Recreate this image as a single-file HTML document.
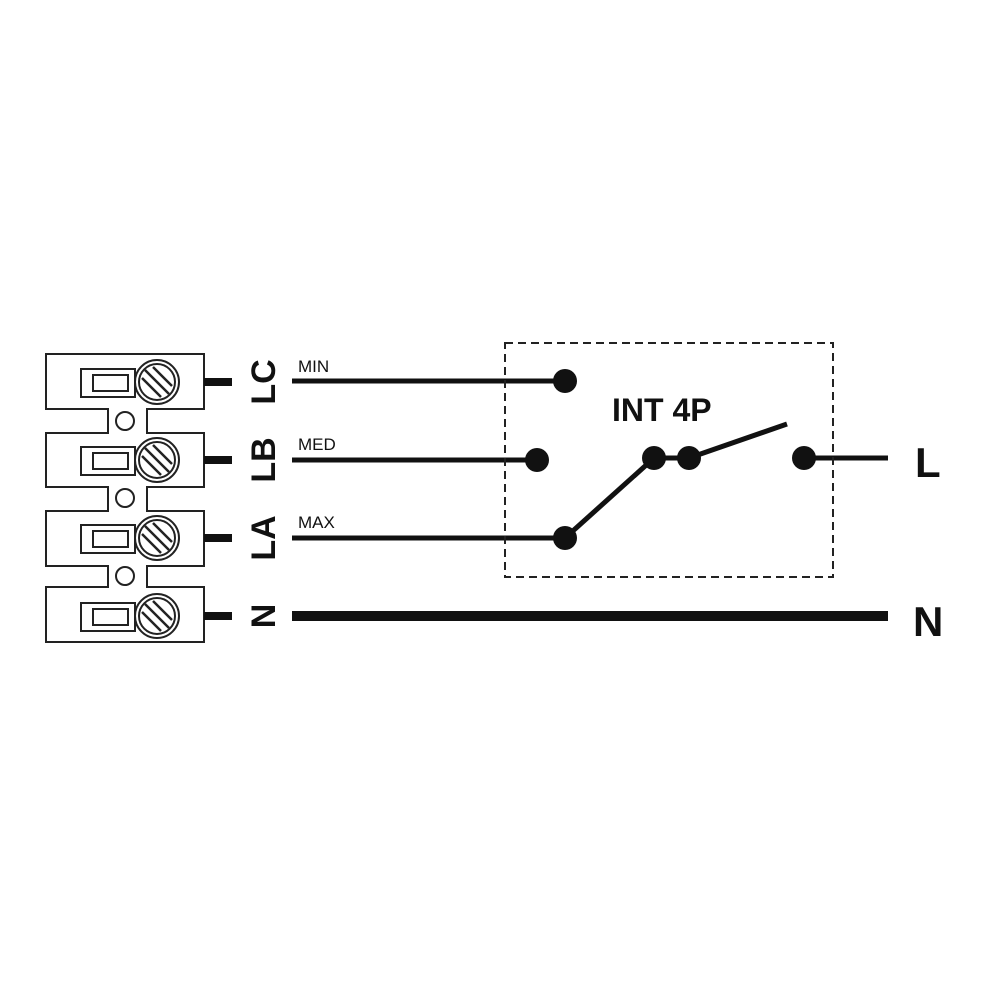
<!DOCTYPE html>
<html><head><style>body{margin:0;background:#fff}svg{display:block}</style></head><body>
<svg width="1000" height="1000" viewBox="0 0 1000 1000" xmlns="http://www.w3.org/2000/svg" font-family="Liberation Sans, sans-serif">
<rect width="1000" height="1000" fill="#fff"/>
<g fill="none" stroke="#222" stroke-width="2">
<path d="M46,354 H204 V409 H147 V433 H204 V487 H147 V511 H204 V566 H147 V587 H204 V642 H46 V587 H108 V566 H46 V511 H108 V487 H46 V433 H108 V409 H46 Z"/>
<circle cx="125" cy="421" r="9"/><circle cx="125" cy="498" r="9"/><circle cx="125" cy="576" r="9"/>
</g>
<g id="t">
<rect x="81" y="369" width="54" height="28" fill="none" stroke="#222" stroke-width="2"/>
<rect x="93" y="375" width="35" height="16" fill="none" stroke="#222" stroke-width="2"/>
<circle cx="157" cy="382" r="22" fill="#fff" stroke="#222" stroke-width="2"/>
<circle cx="157" cy="382" r="18" fill="none" stroke="#222" stroke-width="2"/>
<line x1="145" y1="370" x2="169" y2="394" stroke="#222" stroke-width="2.5"/>
<line x1="142" y1="378" x2="161" y2="397" stroke="#222" stroke-width="2.5"/>
<line x1="153" y1="367" x2="172" y2="386" stroke="#222" stroke-width="2.5"/>
<rect x="204" y="378" width="28" height="8" fill="#111"/>
</g>
<use href="#t" y="78"/><use href="#t" y="156"/><use href="#t" y="234"/>
<g font-weight="bold" font-size="34" fill="#111" text-anchor="middle">
<text transform="translate(275,382) rotate(-90)">LC</text>
<text transform="translate(275,460) rotate(-90)">LB</text>
<text transform="translate(275,538) rotate(-90)">LA</text>
<text transform="translate(275,616) rotate(-90)">N</text>
</g>
<g font-size="17" fill="#111">
<text x="298" y="372">MIN</text><text x="298" y="450">MED</text><text x="298" y="528">MAX</text>
</g>
<g stroke="#111" stroke-width="5">
<line x1="292" y1="381" x2="565" y2="381"/>
<line x1="292" y1="460" x2="537" y2="460"/>
<line x1="292" y1="538" x2="565" y2="538"/>
<line x1="565" y1="538" x2="654" y2="458"/>
<line x1="654" y1="458" x2="689" y2="458"/>
<line x1="689" y1="458" x2="787" y2="424"/>
<line x1="804" y1="458" x2="888" y2="458"/>
</g>
<line x1="292" y1="616" x2="888" y2="616" stroke="#111" stroke-width="10"/>
<rect x="505" y="343" width="328" height="234" fill="none" stroke="#222" stroke-width="2" stroke-dasharray="8,5"/>
<g fill="#111">
<circle cx="565" cy="381" r="12"/><circle cx="537" cy="460" r="12"/><circle cx="565" cy="538" r="12"/>
<circle cx="654" cy="458" r="12"/><circle cx="689" cy="458" r="12"/><circle cx="804" cy="458" r="12"/>
</g>
<g font-weight="bold" fill="#111">
<text x="612" y="421" font-size="32">INT 4P</text>
<text x="915" y="477" font-size="42">L</text>
<text x="913" y="636" font-size="42">N</text>
</g>
</svg>
</body></html>
